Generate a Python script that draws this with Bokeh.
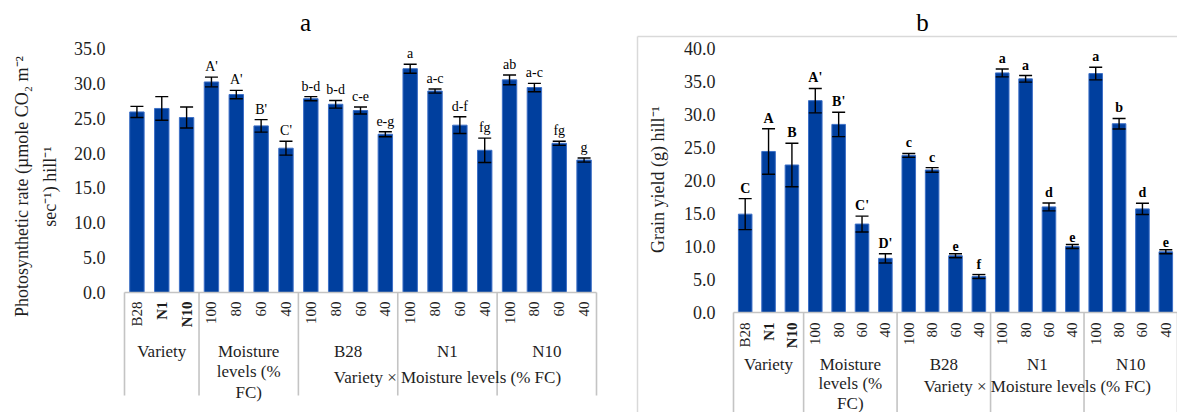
import math
from bokeh.plotting import figure
from bokeh.models import Range1d, Whisker, TeeHead, ColumnDataSource
from bokeh.layouts import row
from bokeh.embed import file_html
from bokeh.resources import INLINE
from bokeh.core.properties import value

# ---------------- data ----------------
tick_labels = ["B28", "N1", "N10",
               "100", "80", "60", "40",
               "100", "80", "60", "40",
               "100", "80", "60", "40",
               "100", "80", "60", "40"]
bold_tick = [False, True, True] + [False] * 16
group_names = ["Variety", "Moisture\nlevels (%\nFC)", "B28", "N1", "N10"]
group_sizes = [3, 4, 4, 4, 4]
interaction_label = "Variety \u00d7 Moisture levels (% FC)"

photo_rate = [25.9, 26.4, 25.1, 30.2, 28.4, 23.9, 20.7,
              27.8, 27.0, 26.1, 22.7,
              32.1, 28.9, 24.0, 20.4,
              30.5, 29.4, 21.4, 19.0]
photo_se = [0.8, 1.7, 1.5, 0.7, 0.6, 0.9, 1.0,
            0.3, 0.55, 0.5, 0.35,
            0.65, 0.3, 1.2, 1.75,
            0.7, 0.6, 0.3, 0.3]
photo_letters = ["", "", "", "A'", "A'", "B'", "C'",
                 "b-d", "b-d", "c-e", "e-g",
                 "a", "a-c", "d-f", "fg",
                 "ab", "a-c", "fg", "g"]
photo_ticks = [0, 5, 10, 15, 20, 25, 30, 35]
photo_title = ["Photosynthetic rate (\u00b5mole CO\u2082 m\u207b\u00b2",
               "sec\u207b\u00b9) hill\u207b\u00b9"]

grain_yield = [14.9, 24.4, 22.35, 32.1, 28.5, 13.4, 8.2,
               23.8, 21.6, 8.6, 5.45,
               36.3, 35.4, 16.0, 10.0,
               36.2, 28.6, 15.7, 9.2]
grain_se = [2.35, 3.45, 3.3, 1.85, 1.85, 1.2, 0.7,
            0.3, 0.35, 0.3, 0.3,
            0.6, 0.5, 0.6, 0.3,
            0.95, 0.8, 0.85, 0.3]
grain_letters = ["C", "A", "B", "A'", "B'", "C'", "D'",
                 "c", "c", "e", "f",
                 "a", "a", "d", "e",
                 "a", "b", "d", "e"]
grain_ticks = [0, 5, 10, 15, 20, 25, 30, 35, 40]
grain_title = ["Grain yield (g) hill\u207b\u00b9"]

# ---------------- style ----------------
FONT = value("Liberation Serif")
BAR = "#003f9e"
EDGE = "#3d6fc6"
SEP = "#c4c4c4"
BOX = "#d9d9d9"
TXT = "#1e1e1e"
H = 412

n = len(tick_labels)
xs = list(range(n))
bounds = [-0.5]
for s in group_sizes:
    bounds.append(bounds[-1] + s)
centers = [(bounds[i] + bounds[i + 1]) / 2 for i in range(len(group_sizes))]


def panel(width, plot_left, plot_right, zero_px, ppu, ticks, vals, errs, letters,
          bold_letters, title, title_px, title_lines, title_line_px, title_y_px,
          tick_right_px, sep_len, tick_top, group_y, group_lh, inter_y, box=None):
    cat = (plot_right - plot_left) / n

    def X(px):  # canvas px from left -> data x
        return -0.5 + (px - plot_left) / cat

    def Y(py):  # canvas px from top -> data y
        return (zero_px - py) / ppu

    p = figure(width=width, height=H,
               x_range=Range1d(X(0), X(width)), y_range=Range1d(Y(H), Y(0)),
               x_axis_location=None, y_axis_location=None, min_border=0,
               toolbar_location=None, output_backend="svg")
    p.outline_line_color = None
    p.background_fill_color = "white"
    p.border_fill_color = "white"
    for r in list(p.center):
        if r.__class__.__name__ == "Grid":
            r.visible = False

    # y tick labels
    p.text(x=[X(tick_right_px)] * len(ticks), y=ticks, text=[f"{t:.1f}" for t in ticks],
           text_align="right", text_baseline="middle", text_font=FONT,
           text_font_size="18px", text_color=TXT)

    # bars + error bars
    src = ColumnDataSource(dict(x=xs, top=vals,
                                upper=[v + e for v, e in zip(vals, errs)],
                                lower=[v - e for v, e in zip(vals, errs)]))
    p.vbar(x="x", top="top", bottom=0, width=0.58, source=src, fill_color=BAR,
           line_color=EDGE, line_width=1)
    w = Whisker(source=src, base="x", upper="upper", lower="lower",
                line_color="black", line_width=1.4,
                upper_head=TeeHead(size=13, line_color="black", line_width=1.4),
                lower_head=TeeHead(size=13, line_color="black", line_width=1.4),
                level="overlay")
    p.add_layout(w)

    li = [i for i in xs if letters[i]]
    p.text(x=li, y=[vals[i] + errs[i] for i in li], text=[letters[i] for i in li],
           text_align="center", text_baseline="bottom", y_offset=-3,
           text_font=FONT, text_font_size="14px",
           text_font_style="bold" if bold_letters else "normal", text_color="black")

    # y title
    p.text(x=[X(px) for px in title_line_px], y=[Y(title_y_px)] * len(title_lines),
           text=title_lines, angle=math.pi / 2, text_align="center",
           text_baseline="middle", text_font=FONT, text_font_size="18px",
           text_color=TXT)
    # panel title
    p.text(x=[X(title_px)], y=[Y(22)], text=[title], text_align="center",
           text_baseline="middle", text_font=FONT, text_font_size="25px",
           text_color="black")

    # category area
    s = 1.0 / ppu
    p.segment(x0=bounds, y0=[0] * len(bounds), x1=bounds,
              y1=[-sep_len * s] * len(bounds), line_color=SEP, line_width=1.6)
    p.segment(x0=[bounds[0]], y0=[0], x1=[bounds[-1]], y1=[0], line_color=SEP,
              line_width=1.6)
    ni = [i for i in xs if not bold_tick[i]]
    bi = [i for i in xs if bold_tick[i]]
    p.text(x=ni, y=[-tick_top * s] * len(ni), text=[tick_labels[i] for i in ni],
           angle=math.pi / 2, text_align="right", text_baseline="middle",
           text_font=FONT, text_font_size="15px", text_color=TXT)
    p.text(x=bi, y=[-tick_top * s] * len(bi), text=[tick_labels[i] for i in bi],
           angle=math.pi / 2, text_align="right", text_baseline="middle",
           text_font=FONT, text_font_size="15px", text_font_style="bold",
           text_color=TXT)
    p.text(x=centers, y=[-group_y * s] * len(centers), text=group_names,
           text_align="center", text_baseline="top", text_font=FONT,
           text_font_size="17px", text_color=TXT, text_line_height=group_lh)
    ic = (bounds[2] + bounds[-1]) / 2
    p.text(x=[ic], y=[-inter_y * s], text=[interaction_label], text_align="center",
           text_baseline="middle", text_font=FONT, text_font_size="17px",
           text_color=TXT)

    if box is not None:
        bx, by = box
        p.segment(x0=[X(bx), X(bx)], y0=[Y(by), Y(by)], x1=[X(width + 5), X(bx)],
                  y1=[Y(by), Y(H + 5)], line_color=BOX, line_width=1.5)
    return p


# left panel (a): canvas x 0..600
pa = panel(600, 124, 596, 292, 244 / 35.0, photo_ticks, photo_rate, photo_se,
           photo_letters, False, "a", 305, photo_title, [21, 49], 186, 105,
           103, 9, 49, 1.1, 85)

# right panel (b): canvas x 600..1177 (local coordinates)
pb = panel(577, 133, 577, 312, 264 / 40.0, grain_ticks, grain_yield, grain_se,
           grain_letters, True, "b", 322, grain_title, [57], 179, 115,
           110, 10, 42, 1.05, 74, box=(37, 36))

layout = row(pa, pb)
open("out.html", "w").write(file_html(layout, INLINE))
